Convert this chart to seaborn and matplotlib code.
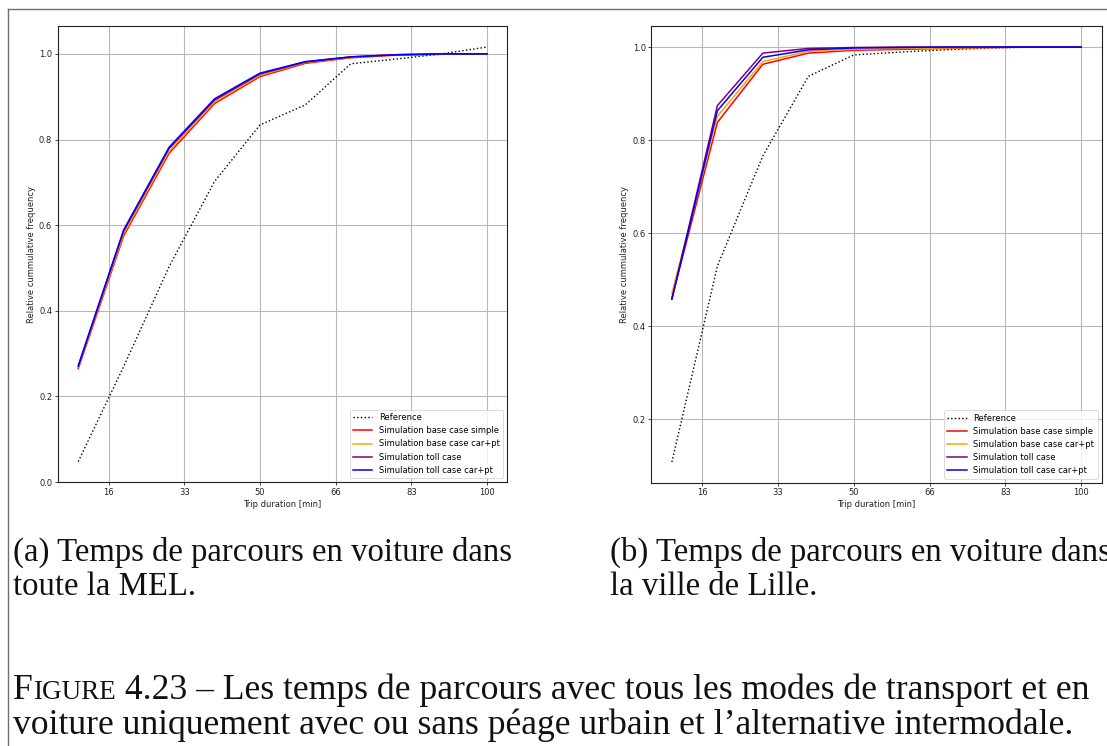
import matplotlib
matplotlib.use("Agg")
import matplotlib.pyplot as plt
from matplotlib.lines import Line2D
import numpy as np
import pandas as pd
import seaborn as sns

# ---------------- data ----------------
durations = [10, 20, 30, 40, 50, 60, 70, 80, 90, 100]
xtick_labels = ["16", "33", "50", "66", "83", "100"]

series_labels = ["Reference", "Simulation base case simple", "Simulation base case car+pt",
                 "Simulation toll case", "Simulation toll case car+pt"]
series_colors = ["black", "red", "orange", "purple", "blue"]

# (a) whole MEL
mel_reference = [0.048, 0.270, 0.503, 0.702, 0.834, 0.881, 0.977, 0.988, 1.000, 1.016]
mel_base_simple = [0.265, 0.575, 0.768, 0.884, 0.947, 0.978, 0.991, 0.997, 0.999, 1.000]
mel_base_carpt = [0.268, 0.580, 0.773, 0.888, 0.950, 0.980, 0.992, 0.998, 1.000, 1.000]
mel_toll = [0.270, 0.586, 0.779, 0.892, 0.953, 0.981, 0.993, 0.998, 1.000, 1.000]
mel_toll_carpt = [0.272, 0.589, 0.782, 0.895, 0.955, 0.982, 0.993, 0.998, 1.000, 1.000]

# (b) city of Lille
lille_reference = [0.108, 0.529, 0.766, 0.937, 0.983, 0.989, 0.994, 0.998, 1.000, 1.000]
lille_base_simple = [0.460, 0.838, 0.963, 0.987, 0.993, 0.995, 0.997, 0.999, 1.000, 1.000]
lille_base_carpt = [0.470, 0.851, 0.969, 0.991, 0.995, 0.997, 0.998, 0.999, 1.000, 1.000]
lille_toll = [0.458, 0.874, 0.987, 0.997, 0.999, 1.000, 1.000, 1.000, 1.000, 1.000]
lille_toll_carpt = [0.458, 0.863, 0.978, 0.994, 0.998, 0.999, 1.000, 1.000, 1.000, 1.000]

caption_a = ["(a) Temps de parcours en voiture dans", "toute la MEL."]
caption_b = ["(b) Temps de parcours en voiture dans", "la ville de Lille."]
fig_caption_1 = " 4.23 – Les temps de parcours avec tous les modes de transport et en"
fig_caption_2 = "voiture uniquement avec ou sans péage urbain et l’alternative intermodale."

xlabel = "Trip duration [min]"
ylabel = "Relative cummulative frequency"

# ---------------- figure ----------------
W, H = 1107, 746
fig = plt.figure(figsize=(W / 100, H / 100), dpi=100)
fig.patch.set_facecolor("white")

small = 6.0


def make_axes(x0, x1, ytop, ybot):
    return fig.add_axes([x0 / W, 1 - ybot / H, (x1 - x0) / W, (ybot - ytop) / H])


ax_a = make_axes(57.8, 507.5, 26.3, 482.3)
ax_b = make_axes(651.4, 1101.7, 26.3, 482.8)

panels = [
    (ax_a, [mel_reference, mel_base_simple, mel_base_carpt, mel_toll, mel_toll_carpt]),
    (ax_b, [lille_reference, lille_base_simple, lille_base_carpt, lille_toll, lille_toll_carpt]),
]

tick_pos = [100 * k / 6 for k in range(1, 7)]

for ax, series in panels:
    for i, (vals, lab, col) in enumerate(zip(series, series_labels, series_colors)):
        df = pd.DataFrame({"duration": durations, "freq": vals})
        if i == 0:
            sns.lineplot(data=df, x="duration", y="freq", ax=ax, color=col, linestyle=":",
                         linewidth=1.0, label=lab, estimator=None)
        else:
            sns.lineplot(data=df, x="duration", y="freq", ax=ax, color=col, linestyle="-",
                         linewidth=1.1, label=lab, estimator=None)
    ax.set_xticks(tick_pos)
    ax.set_xticklabels(xtick_labels)
    ax.grid(True, color="#b8b8b8", linewidth=0.8)
    ax.set_axisbelow(True)
    ax.tick_params(labelsize=small, length=2.0, width=0.6, pad=2.0, colors="#222222")
    ax.set_xlabel(xlabel, fontsize=small, labelpad=2.0, color="#222222")
    ax.set_ylabel(ylabel, fontsize=small, labelpad=2.5, color="#222222")
    for s in ax.spines.values():
        s.set_linewidth(0.8)
        s.set_color("#222222")
    leg = ax.legend(loc="lower right", fontsize=small, borderaxespad=0.5, handlelength=2.3)
    leg.get_frame().set_linewidth(0.6)

# ---------------- page frame ----------------
fig.add_artist(Line2D([8 / W, 1.0], [1 - 9 / H, 1 - 9 / H], transform=fig.transFigure,
                      color="#6e6e6e", linewidth=1.0))
fig.add_artist(Line2D([8 / W, 8 / W], [1 - 9 / H, 0.0], transform=fig.transFigure,
                      color="#6e6e6e", linewidth=1.0))

# ---------------- captions ----------------
serif = "Liberation Serif"
fig.canvas.draw()
renderer = fig.canvas.get_renderer()
probe = fig.text(0, 0, caption_a[0], family=serif, fontsize=20)
w = probe.get_window_extent(renderer).width
probe.remove()
cap_fs = 20 * 500.0 / w
main_fs = cap_fs * 1.088


def put(x, y, s, fs):
    return fig.text(x / W, 1 - y / H, s, family=serif, fontsize=fs,
                    va="baseline", ha="left", color="#111111")


put(13, 561, caption_a[0], cap_fs)
put(13, 595, caption_a[1], cap_fs)
put(610, 561, caption_b[0], cap_fs)
put(610, 595, caption_b[1], cap_fs)

# small-caps "FIGURE"
tF = put(13, 699, "F", main_fs)
xF = tF.get_window_extent(renderer).x1
tI = put(xF, 699, "IGURE", main_fs * 0.76)
xI = tI.get_window_extent(renderer).x1
put(xI, 699, fig_caption_1, main_fs)
put(13, 734, fig_caption_2, main_fs)

fig.savefig("out.png", dpi=100, facecolor="white")
